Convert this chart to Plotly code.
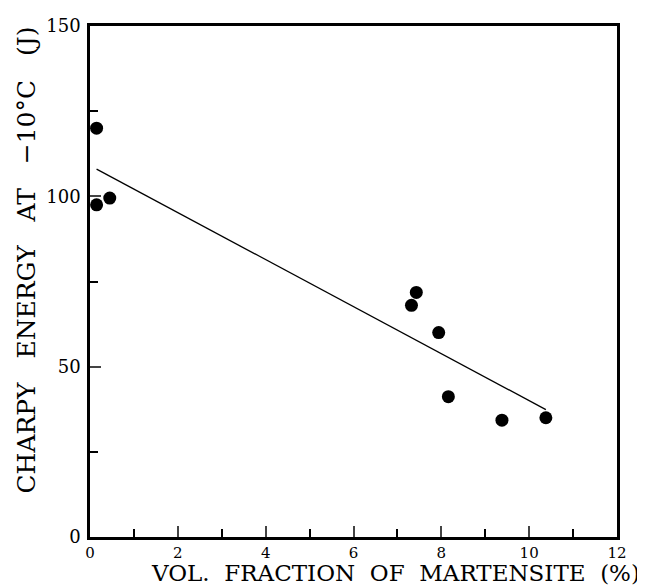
import plotly.graph_objects as go

vol_fraction = [0.15, 0.15, 0.45, 7.32, 7.43, 7.94, 8.16, 9.38, 10.38]
charpy_energy = [120, 97.5, 99.5, 68, 71.8, 60, 41.2, 34.3, 35]
fit_x = [0.15, 10.38]
fit_y = [108.0, 37.4]

x_ticks = [0, 2, 4, 6, 8, 10, 12]
y_ticks = [0, 50, 100, 150]
x_minor = [1, 3, 5, 7, 9, 11]
y_minor = [25, 75, 125]

FONT = "DejaVu Serif"

fig = go.Figure()
fig.add_trace(go.Scatter(x=fit_x, y=fit_y, mode="lines",
                         line=dict(color="black", width=1.3), showlegend=False))
fig.add_trace(go.Scatter(x=vol_fraction, y=charpy_energy, mode="markers",
                         marker=dict(color="black", size=13), showlegend=False))

# page body has an 8px margin; compensate so the plot lands where the reference has it
fig.update_layout(
    width=637, height=577,
    margin=dict(l=82, r=28, t=7, b=48),
    paper_bgcolor="white", plot_bgcolor="white",
    font=dict(family=FONT, color="black", size=17),
    xaxis=dict(range=[0, 12], tickvals=x_ticks, ticks="inside", ticklen=11,
               tickwidth=1.5, showline=True, linewidth=2.5, linecolor="black",
               mirror=True, showgrid=False, zeroline=False,
               ticklabeloverflow="allow",
               minor=dict(tickvals=x_minor, ticks="inside", ticklen=8,
                          tickcolor="black", tickwidth=1.5),
               tickfont=dict(family=FONT, size=15)),
    yaxis=dict(range=[0, 150], tickvals=y_ticks, ticks="inside", ticklen=11,
               tickwidth=1.5, showline=True, linewidth=2.5, linecolor="black",
               mirror=True, showgrid=False, zeroline=False,
               ticklabeloverflow="allow", ticklabelstandoff=3,
               minor=dict(tickvals=y_minor, ticks="inside", ticklen=8,
                          tickcolor="black", tickwidth=1.5),
               tickfont=dict(family=FONT, size=18)),
    annotations=[
        dict(text="VOL.  FRACTION  OF  MARTENSITE  (%)", xref="paper", yref="paper",
             x=0.579, y=0, yshift=-36, xanchor="center", yanchor="middle",
             showarrow=False, font=dict(family=FONT, size=23)),
        dict(text="CHARPY   ENERGY   AT   \u221210\u00b0C   (J)", xref="paper", yref="paper",
             x=0, xshift=-63, y=0.541, xanchor="center", yanchor="middle",
             textangle=-90, showarrow=False, font=dict(family=FONT, size=25)),
    ],
)

fig.write_html("out.html")
